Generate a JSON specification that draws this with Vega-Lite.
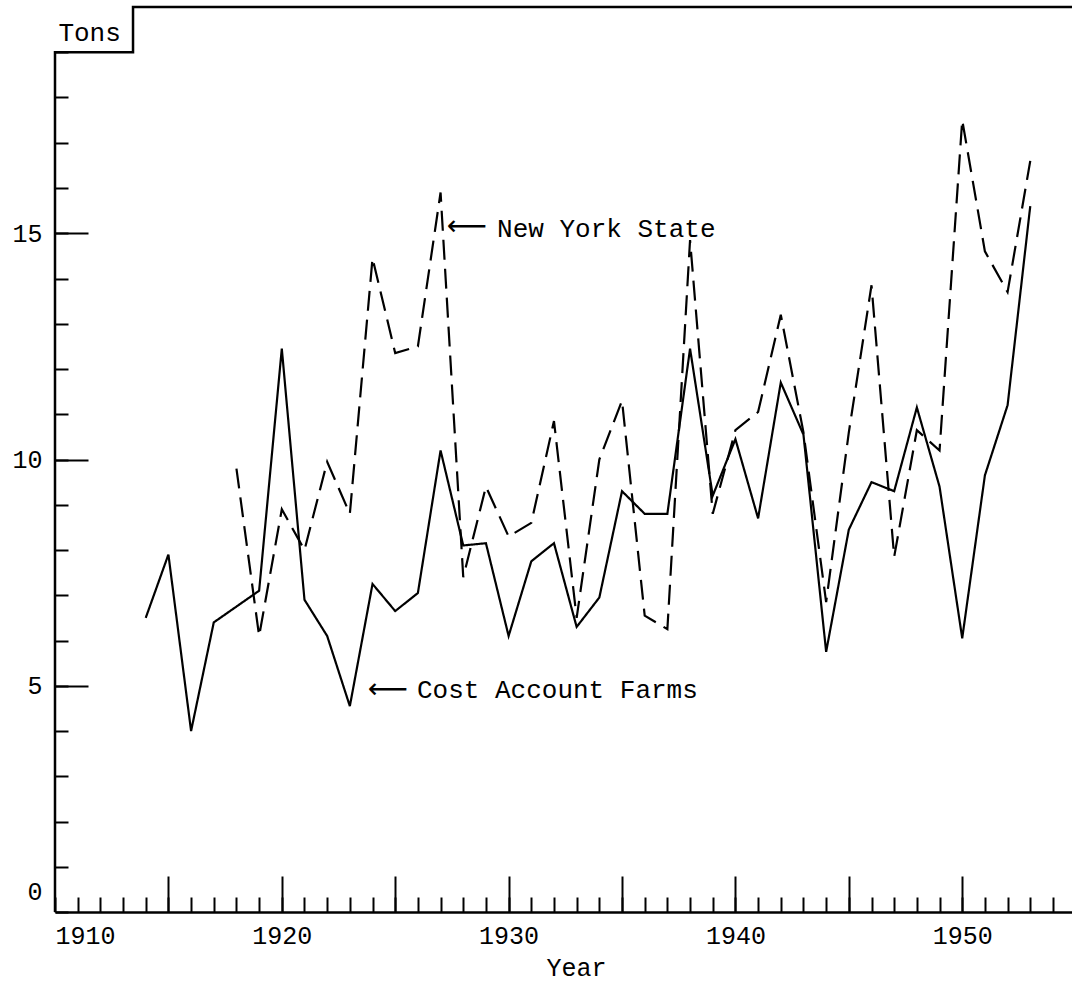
{
  "$schema": "https://vega.github.io/schema/vega-lite/v6.json",
  "width": 1017,
  "height": 905,
  "autosize": "none",
  "padding": {"left": 55, "top": 7, "right": 0, "bottom": 70},
  "background": "white",
  "config": {
    "view": {"stroke": null},
    "font": "Liberation Mono",
    "axis": {"labelFont": "Liberation Mono", "titleFont": "Liberation Mono", "labelColor": "black", "titleColor": "black", "grid": false}
  },
  "datasets": {
    "series": [
      {"year": 1914, "value": 6.5, "series": "Cost Account Farms"},
      {"year": 1915, "value": 7.9, "series": "Cost Account Farms"},
      {"year": 1916, "value": 4.0, "series": "Cost Account Farms"},
      {"year": 1917, "value": 6.4, "series": "Cost Account Farms"},
      {"year": 1918, "value": 6.75, "series": "Cost Account Farms"},
      {"year": 1919, "value": 7.1, "series": "Cost Account Farms"},
      {"year": 1920, "value": 12.45, "series": "Cost Account Farms"},
      {"year": 1921, "value": 6.9, "series": "Cost Account Farms"},
      {"year": 1922, "value": 6.1, "series": "Cost Account Farms"},
      {"year": 1923, "value": 4.55, "series": "Cost Account Farms"},
      {"year": 1924, "value": 7.25, "series": "Cost Account Farms"},
      {"year": 1925, "value": 6.65, "series": "Cost Account Farms"},
      {"year": 1926, "value": 7.05, "series": "Cost Account Farms"},
      {"year": 1927, "value": 10.2, "series": "Cost Account Farms"},
      {"year": 1928, "value": 8.1, "series": "Cost Account Farms"},
      {"year": 1929, "value": 8.15, "series": "Cost Account Farms"},
      {"year": 1930, "value": 6.1, "series": "Cost Account Farms"},
      {"year": 1931, "value": 7.75, "series": "Cost Account Farms"},
      {"year": 1932, "value": 8.15, "series": "Cost Account Farms"},
      {"year": 1933, "value": 6.3, "series": "Cost Account Farms"},
      {"year": 1934, "value": 6.95, "series": "Cost Account Farms"},
      {"year": 1935, "value": 9.3, "series": "Cost Account Farms"},
      {"year": 1936, "value": 8.8, "series": "Cost Account Farms"},
      {"year": 1937, "value": 8.8, "series": "Cost Account Farms"},
      {"year": 1938, "value": 12.45, "series": "Cost Account Farms"},
      {"year": 1939, "value": 9.2, "series": "Cost Account Farms"},
      {"year": 1940, "value": 10.45, "series": "Cost Account Farms"},
      {"year": 1941, "value": 8.7, "series": "Cost Account Farms"},
      {"year": 1942, "value": 11.7, "series": "Cost Account Farms"},
      {"year": 1943, "value": 10.55, "series": "Cost Account Farms"},
      {"year": 1944, "value": 5.75, "series": "Cost Account Farms"},
      {"year": 1945, "value": 8.45, "series": "Cost Account Farms"},
      {"year": 1946, "value": 9.5, "series": "Cost Account Farms"},
      {"year": 1947, "value": 9.3, "series": "Cost Account Farms"},
      {"year": 1948, "value": 11.15, "series": "Cost Account Farms"},
      {"year": 1949, "value": 9.4, "series": "Cost Account Farms"},
      {"year": 1950, "value": 6.05, "series": "Cost Account Farms"},
      {"year": 1951, "value": 9.65, "series": "Cost Account Farms"},
      {"year": 1952, "value": 11.2, "series": "Cost Account Farms"},
      {"year": 1953, "value": 15.6, "series": "Cost Account Farms"},
      {"year": 1918, "value": 9.8, "series": "New York State"},
      {"year": 1919, "value": 6.1, "series": "New York State"},
      {"year": 1920, "value": 8.9, "series": "New York State"},
      {"year": 1921, "value": 8.0, "series": "New York State"},
      {"year": 1922, "value": 9.95, "series": "New York State"},
      {"year": 1923, "value": 8.8, "series": "New York State"},
      {"year": 1924, "value": 14.45, "series": "New York State"},
      {"year": 1925, "value": 12.35, "series": "New York State"},
      {"year": 1926, "value": 12.5, "series": "New York State"},
      {"year": 1927, "value": 15.9, "series": "New York State"},
      {"year": 1928, "value": 7.4, "series": "New York State"},
      {"year": 1929, "value": 9.4, "series": "New York State"},
      {"year": 1930, "value": 8.3, "series": "New York State"},
      {"year": 1931, "value": 8.6, "series": "New York State"},
      {"year": 1932, "value": 10.85, "series": "New York State"},
      {"year": 1933, "value": 6.5, "series": "New York State"},
      {"year": 1934, "value": 10.0, "series": "New York State"},
      {"year": 1935, "value": 11.3, "series": "New York State"},
      {"year": 1936, "value": 6.55, "series": "New York State"},
      {"year": 1937, "value": 6.25, "series": "New York State"},
      {"year": 1938, "value": 14.85, "series": "New York State"},
      {"year": 1939, "value": 8.8, "series": "New York State"},
      {"year": 1940, "value": 10.65, "series": "New York State"},
      {"year": 1941, "value": 11.05, "series": "New York State"},
      {"year": 1942, "value": 13.2, "series": "New York State"},
      {"year": 1943, "value": 10.6, "series": "New York State"},
      {"year": 1944, "value": 6.85, "series": "New York State"},
      {"year": 1945, "value": 10.6, "series": "New York State"},
      {"year": 1946, "value": 13.85, "series": "New York State"},
      {"year": 1947, "value": 7.85, "series": "New York State"},
      {"year": 1948, "value": 10.65, "series": "New York State"},
      {"year": 1949, "value": 10.2, "series": "New York State"},
      {"year": 1950, "value": 17.5, "series": "New York State"},
      {"year": 1951, "value": 14.6, "series": "New York State"},
      {"year": 1952, "value": 13.7, "series": "New York State"},
      {"year": 1953, "value": 16.6, "series": "New York State"}
    ],
    "frame": [
      {"i": 0, "year": 1910, "value": 0},
      {"i": 1, "year": 1910, "value": 19},
      {"i": 2, "year": 1913.44, "value": 19},
      {"i": 3, "year": 1913.44, "value": 20},
      {"i": 4, "year": 1954.84, "value": 20}
    ],
    "notes": [
      {"year": 1910.15, "value": 19.42, "text": "Tons"},
      {"year": 1929.49, "value": 15.1, "text": "New York State"},
      {"year": 1925.96, "value": 4.9, "text": "Cost Account Farms"}
    ],
    "arrows": [
      {"year": 1927.28, "value": 15.14},
      {"year": 1923.8, "value": 4.9}
    ]
  },
  "resolve": {"axis": {"x": "independent", "y": "independent"}},
  "layer": [
    {
      "data": {"name": "series"},
      "mark": {"type": "line", "color": "black", "strokeWidth": 2.2},
      "encoding": {
        "x": {
          "field": "year", "type": "quantitative",
          "scale": {"domain": [1910, 1954.84], "nice": false, "zero": false},
          "axis": {
            "orient": "bottom",
            "title": "Year",
            "values": [1910,1911,1912,1913,1914,1915,1916,1917,1918,1919,1920,1921,1922,1923,1924,1925,1926,1927,1928,1929,1930,1931,1932,1933,1934,1935,1936,1937,1938,1939,1940,1941,1942,1943,1944,1945,1946,1947,1948,1949,1950,1951,1952,1953,1954],
            "labelExpr": "datum.value % 10 === 0 ? toString(datum.value) : ''",
            "labelOverlap": false,
            "labelFontSize": 25,
            "labelPadding": 26,
            "tickSize": -15,
            "tickWidth": 2,
            "tickColor": "black",
            "domainColor": "black",
            "domainWidth": 2.5,
            "titleFontSize": 25,
            "titleFontWeight": "normal",
            "titleX": 521,
            "titleY": 55,
            "titleBaseline": "middle",
            "titleAnchor": null
          }
        },
        "y": {
          "field": "value", "type": "quantitative",
          "scale": {"domain": [0, 20], "nice": false},
          "axis": {
            "orient": "left",
            "title": null,
            "domain": false,
            "values": [0,1,2,3,4,5,6,7,8,9,10,11,12,13,14,15,16,17,18,19],
            "labelExpr": "datum.value % 5 === 0 ? toString(datum.value) : ''",
            "labelOverlap": false,
            "labelFlush": true,
            "labelFlushOffset": -8,
            "labelFontSize": 25,
            "labelPadding": 26,
            "tickSize": -13,
            "tickWidth": 2,
            "tickColor": "black"
          }
        },
        "strokeDash": {
          "field": "series", "type": "nominal",
          "scale": {"domain": ["Cost Account Farms", "New York State"], "range": [[1, 0], [20, 9]]},
          "legend": null
        }
      }
    },
    {
      "data": {"name": "frame"},
      "mark": {"type": "line", "color": "black", "strokeWidth": 2.5},
      "encoding": {
        "x": {
          "field": "year", "type": "quantitative",
          "axis": {
            "orient": "bottom",
            "title": null,
            "domain": false,
            "labels": false,
            "values": [1915, 1920, 1925, 1930, 1935, 1940, 1945, 1950],
            "tickSize": -36,
            "tickWidth": 2,
            "tickColor": "black"
          }
        },
        "y": {
          "field": "value", "type": "quantitative",
          "axis": {
            "orient": "left",
            "title": null,
            "domain": false,
            "labels": false,
            "values": [5, 10, 15],
            "tickSize": -33,
            "tickWidth": 2,
            "tickColor": "black"
          }
        },
        "order": {"field": "i"}
      }
    },
    {
      "data": {"name": "notes"},
      "mark": {"type": "text", "align": "left", "baseline": "middle", "font": "Liberation Mono", "fontSize": 26, "color": "black"},
      "encoding": {
        "x": {"field": "year", "type": "quantitative", "axis": null},
        "y": {"field": "value", "type": "quantitative", "axis": null},
        "text": {"field": "text"}
      }
    },
    {
      "data": {"name": "arrows"},
      "mark": {"type": "text", "align": "left", "baseline": "middle", "font": "DejaVu Sans", "fontSize": 28, "color": "black", "text": "⟵"},
      "encoding": {
        "x": {"field": "year", "type": "quantitative", "axis": null},
        "y": {"field": "value", "type": "quantitative", "axis": null}
      }
    }
  ]
}
